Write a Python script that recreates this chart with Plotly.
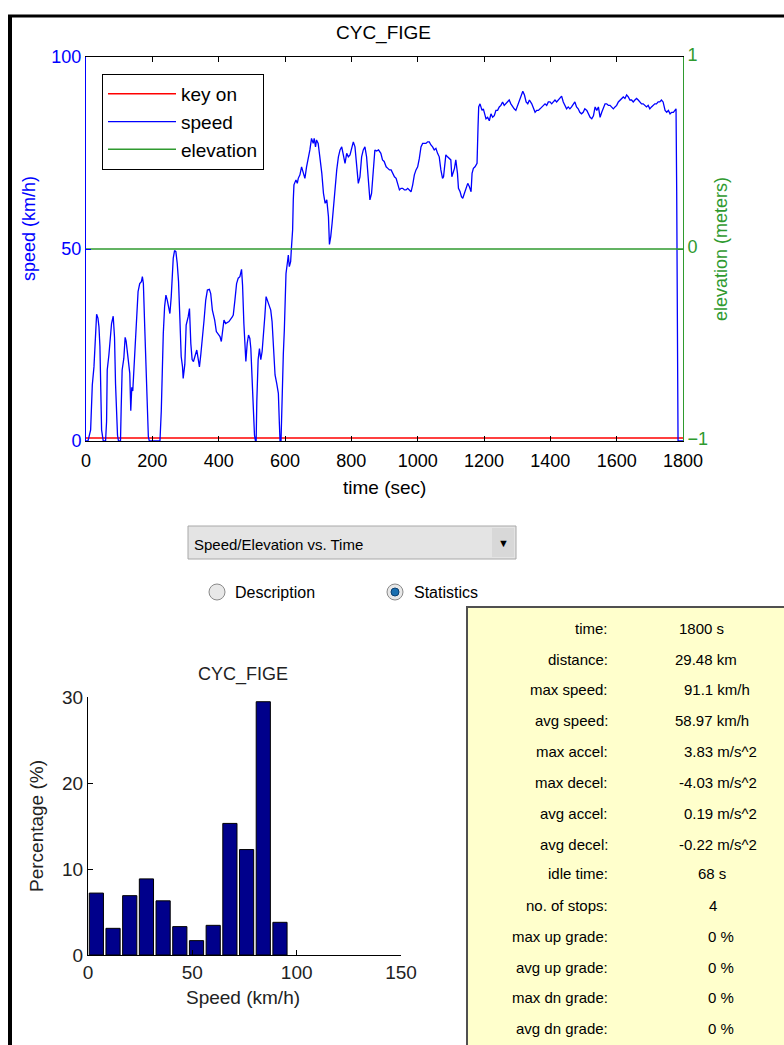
import plotly.graph_objects as go

# ---------------- data ----------------
time_s = [0, 6, 14, 19, 24, 29, 32, 36, 39, 42, 44, 47, 52, 59, 62, 64, 69, 72, 77, 82, 86, 89, 92, 95, 98, 104,
          106, 109, 114, 118, 121, 124, 128, 132, 135, 138, 141, 145, 148, 152, 157, 162, 167, 170, 173, 177, 181,
          185, 188, 191, 223, 227, 230, 233, 237, 241, 245, 250, 253, 257, 260, 263, 267, 271, 275, 279, 283, 287,
          291, 293, 298, 302, 308, 312, 316, 320, 324, 330, 334, 338, 342, 346, 351, 356, 361, 366, 372, 376, 381,
          388, 393, 398, 404, 408, 412, 416, 421, 431, 441, 444, 449, 454, 459, 464, 469, 472, 476, 479, 482, 486,
          490, 494, 497, 502, 505, 508, 511, 513, 515, 519, 523, 527, 531, 535, 539, 543, 547, 553, 557, 561, 565,
          570, 575, 580, 583, 585, 588, 591, 595, 598, 601, 603, 607, 610, 613, 617, 619, 621, 623, 625, 627, 633,
          637, 640, 645, 650, 655, 660, 665, 670, 675, 680, 685, 688, 692, 695, 700, 705, 711, 716, 721, 726, 731,
          734, 738, 742, 746, 751, 756, 761, 766, 771, 776, 781, 786, 791, 796, 801, 806, 811, 816, 821, 826, 831,
          836, 841, 846, 851, 856, 861, 866, 871, 876, 882, 889, 894, 899, 905, 910, 915, 920, 925, 930, 935, 940,
          945, 950, 955, 960, 965, 970, 975, 980, 985, 990, 995, 1000, 1005, 1010, 1015, 1020, 1025, 1030, 1035,
          1040, 1045, 1050, 1055, 1060, 1065, 1070, 1075, 1078, 1082, 1085, 1090, 1095, 1100, 1103, 1107, 1111,
          1115, 1120, 1123, 1128, 1132, 1136, 1141, 1146, 1151, 1156, 1161, 1164, 1168, 1173, 1179, 1182, 1184,
          1188, 1194, 1198, 1202, 1206, 1211, 1216, 1221, 1226, 1231, 1236, 1241, 1246, 1251, 1256, 1261, 1266,
          1271, 1276, 1281, 1286, 1291, 1296, 1301, 1307, 1312, 1317, 1322, 1327, 1332, 1337, 1344, 1349, 1354,
          1359, 1364, 1369, 1374, 1379, 1384, 1389, 1394, 1399, 1404, 1409, 1414, 1419, 1424, 1429, 1434, 1439,
          1444, 1449, 1454, 1459, 1464, 1469, 1474, 1479, 1484, 1489, 1494, 1499, 1504, 1510, 1515, 1520, 1525,
          1530, 1535, 1540, 1545, 1550, 1555, 1560, 1565, 1570, 1575, 1580, 1585, 1590, 1595, 1600, 1605, 1610,
          1615, 1620, 1625, 1630, 1635, 1640, 1645, 1650, 1655, 1660, 1665, 1670, 1675, 1680, 1685, 1690, 1695,
          1700, 1705, 1710, 1715, 1720, 1725, 1730, 1735, 1740, 1746, 1751, 1756, 1761, 1766, 1771, 1776, 1779,
          1781, 1783, 1785, 1800]
speed_kmh = [0, 0, 2.9, 14.6, 19.3, 28.9, 33, 32, 29.8, 24.6, 13, 2.9, 0, 0, 5, 18.5, 22.4, 26.3, 30.6, 32.5, 27, 15,
             6.3, 1.5, 0, 0, 8.3, 18.5, 21.5, 27, 26, 23.5, 19.3, 17.6, 7.9, 14, 13, 19.3, 25.4, 31.5, 38.9, 41, 41.5,
             42.8, 41, 29.8, 18.5, 9, 1.1, 0, 0, 7.9, 18.5, 27.9, 35, 38, 36.7, 34.5, 33.2, 37.6, 43.6, 47.6, 49.6,
             49.3, 46.3, 41.5, 32, 22, 19.3, 16.3, 20, 30.2, 32.3, 34.5, 25.4, 21.2, 20.7, 22.9, 23.7, 21.5, 19.3,
             22.4, 26.3, 31.5, 36.7, 39.3, 39.5, 38.4, 34.1, 31.5, 28.5, 28, 27.2, 25.9, 28.9, 31.5, 30.6, 31.1,
             32.3, 32.8, 36.7, 41, 42.4, 42.8, 44.7, 40.6, 30.6, 23.7, 20.7, 25.4, 27.6, 26.7, 24.1, 13.7, 6.3, 1.5,
             0, 0, 10.2, 21.2, 24.1, 21.2, 23.3, 27.2, 32.3, 37.6, 36.7, 35.4, 34.1, 31.1, 24.6, 17.2, 15, 12.4,
             4.6, 0, 0, 13, 22.8, 28.9, 36.7, 43.6, 46.3, 48.4, 45.4, 46.7, 49.7, 52, 55, 62.8, 66.7, 68, 67.1,
             68.4, 69.3, 71.4, 70.1, 68.4, 71.4, 73.2, 75.8, 78.8, 77.5, 78.8, 76.6, 78.4, 77.5, 74, 69.7, 64.5,
             61.9, 62.8, 58.4, 51.2, 53.3, 56.7, 61.1, 65.4, 70.6, 74, 75.8, 76.6, 74, 72.3, 74.9, 74, 74.5, 76.6,
             77.9, 76.6, 71.4, 67.1, 68.8, 74, 75.8, 76.6, 74, 67.1, 62.8, 64.5, 70.6, 75.8, 75.5, 75.8, 74.9,
             73.2, 72.8, 71.4, 71, 70.6, 70.6, 69.7, 68.8, 68.4, 66.7, 65.4, 65.8, 65.8, 65.4, 65.4, 65.8, 65.4,
             64.9, 66.7, 69.3, 70.6, 71.4, 73.6, 76.6, 77.5, 77.5, 77.5, 77.9, 77.9, 77.1, 76.6, 75.8, 76.2, 74.9,
             74, 70.6, 68.4, 68.8, 72.3, 74.5, 74, 73.6, 73.2, 68.8, 69.7, 71, 73.2, 69.7, 65.8, 64.9, 63.6, 63.2,
             64.5, 65.8, 67.1, 66.2, 64.9, 69.7, 71, 71.4, 72.3, 81.8, 87, 87.8, 86.1, 86.5, 84.7, 83.9, 84.3,
             83.4, 85.2, 84.3, 84.7, 86.1, 86.1, 87, 87.4, 88.3, 87.4, 87.8, 88.3, 88.8, 87.8, 87, 86.5, 86.1,
             87.4, 88.8, 90.1, 91.1, 90.1, 88.3, 87.8, 88.8, 87.8, 86.5, 85.6, 86.1, 86.1, 86.5, 87, 87.4, 87.8,
             87.4, 88.3, 88.3, 87.8, 88.3, 88.8, 88.3, 88.8, 89.2, 89.8, 88.3, 87.4, 86.5, 87, 86.5, 87, 87.8,
             88.3, 87, 86.5, 85.6, 85.2, 85.6, 86.5, 86.1, 85.2, 84.3, 83.9, 84.7, 87, 86.1, 87, 84.3, 85.6, 87,
             87.8, 87.8, 87.4, 87.4, 87, 86.5, 87, 87.4, 88.3, 88.8, 89.2, 89.6, 89.2, 90.1, 89.6, 88.8, 88.8,
             88.3, 88.8, 89.2, 88.8, 88.3, 87.8, 87.8, 87.4, 87, 87.4, 86.5, 87, 87.4, 87.8, 87.8, 88.3, 88.3,
             88.8, 88.3, 86.1, 85.6, 86.1, 85.2, 85.6, 85.6, 86.1, 86.5, 64.9, 30, 0, 0]

key_on_time = [0, 1800]
key_on_value = [0.8, 0.8]
elevation_time = [0, 1800]
elevation_m = [0, 0]

hist_centers = [4, 12, 20, 28, 36, 44, 52, 60, 68, 76, 84, 92]
hist_percent = [7.2, 3.1, 6.9, 8.85, 6.3, 3.3, 1.67, 3.45, 15.3, 12.26, 29.45, 3.8]

stat_labels = ["time:", "distance:", "max speed:", "avg speed:", "max accel:", "max decel:", "avg accel:",
               "avg decel:", "idle time:", "no. of stops:", "max up grade:", "avg up grade:", "max dn grade:",
               "avg dn grade:"]
stat_values = ["1800 s", "29.48 km", "91.1 km/h", "58.97 km/h", "3.83 m/s^2", "-4.03 m/s^2", "0.19 m/s^2",
               "-0.22 m/s^2", "68 s", "4", "0 %", "0 %", "0 %", "0 %"]

# ---------------- layout helpers ----------------
W, H = 784, 1045
def px(x):
    return x / W
def py(y):
    return 1 - y / H

NARROW = "Liberation Sans Narrow, Arial Narrow, Liberation Sans, Arial, sans-serif"
SANS = "Liberation Sans, Arial, sans-serif"
BLUE = "#0000ff"
GREEN = "#2f9a2f"
RED = "#ff0000"

fig = go.Figure()
fig.add_trace(go.Scatter(x=key_on_time, y=key_on_value, mode="lines", name="key on",
                         line=dict(color=RED, width=1.5), xaxis="x", yaxis="y"))
fig.add_trace(go.Scatter(x=time_s, y=speed_kmh, mode="lines", name="speed",
                         line=dict(color=BLUE, width=1.3), xaxis="x", yaxis="y"))
fig.add_trace(go.Scatter(x=elevation_time, y=elevation_m, mode="lines", name="elevation",
                         line=dict(color=GREEN, width=1.5), xaxis="x", yaxis="y2"))
fig.add_trace(go.Bar(x=hist_centers, y=hist_percent, width=6.8, showlegend=False,
                     marker=dict(color="#00008b", line=dict(color="black", width=1)),
                     xaxis="x3", yaxis="y3"))

axis_common = dict(showgrid=False, zeroline=False, showline=True, ticks="inside", ticklen=5,
                   automargin=False)

fig.update_layout(
    template="none",
    width=W, height=H, margin=dict(l=0, r=0, t=0, b=0, pad=0, autoexpand=False),
    paper_bgcolor="white", plot_bgcolor="white",
    showlegend=True,
    legend=dict(x=px(102), y=py(74), xanchor="left", yanchor="top",
                bordercolor="black", borderwidth=1, bgcolor="white",
                font=dict(family=SANS, size=19, color="black"), itemwidth=68,
                tracegroupgap=0),
    xaxis=dict(domain=[px(86), px(683)], anchor="y", range=[0, 1800],
               tickvals=[0, 200, 400, 600, 800, 1000, 1200, 1400, 1600, 1800],
               linecolor="black", tickcolor="black", mirror="ticks", ticklabelstandoff=3,
               tickfont=dict(family=NARROW, size=18, color="black"), **axis_common),
    yaxis=dict(domain=[py(441), py(57)], anchor="x", range=[0, 100], tickvals=[0, 50, 100],
               linecolor=BLUE, tickcolor=BLUE,
               tickfont=dict(family=NARROW, size=18, color=BLUE), **axis_common),
    yaxis2=dict(overlaying="y", side="right", anchor="x", range=[-1, 1], tickvals=[-1, 0, 1],
                linecolor=GREEN, tickcolor=GREEN, ticklabelshift=-2,
                tickfont=dict(family=NARROW, size=18, color=GREEN), **axis_common),
    xaxis3=dict(domain=[px(88), px(401)], anchor="y3", range=[0, 150], tickvals=[0, 50, 100, 150],
                linecolor="black", tickcolor="black",
                tickfont=dict(family=SANS, size=19, color="#222"), **axis_common),
    yaxis3=dict(domain=[py(955), py(697)], anchor="x3", range=[0, 30], tickvals=[0, 10, 20, 30],
                linecolor="black", tickcolor="black",
                tickfont=dict(family=SANS, size=19, color="#222"), **axis_common),
)

ann = []
# titles and axis labels
ann.append(dict(text="CYC_FIGE", x=px(383), y=py(33), font=dict(family=NARROW, size=19, color="black")))
ann.append(dict(text="time (sec)", x=px(384), y=py(487), font=dict(family=NARROW, size=19, color="black")))
ann.append(dict(text="speed (km/h)", x=px(29), y=py(229), textangle=-90,
                font=dict(family=NARROW, size=18, color=BLUE)))
ann.append(dict(text="elevation (meters)", x=px(721), y=py(249), textangle=-90,
                font=dict(family=NARROW, size=18, color=GREEN)))
ann.append(dict(text="CYC_FIGE", x=px(243), y=py(674), font=dict(family=SANS, size=18, color="#222")))
ann.append(dict(text="Speed (km/h)", x=px(243), y=py(997), font=dict(family=SANS, size=19, color="#222")))
ann.append(dict(text="Percentage (%)", x=px(36), y=py(826), textangle=-90,
                font=dict(family=SANS, size=19, color="#222")))
# dropdown and radio labels
ann.append(dict(text="Speed/Elevation vs. Time", x=px(192), y=py(544), xanchor="left",
                font=dict(family=SANS, size=15, color="black")))
ann.append(dict(text="\u25bc", x=px(503), y=py(543), font=dict(family=SANS, size=11, color="black")))
ann.append(dict(text="Description", x=px(233), y=py(592), xanchor="left",
                font=dict(family=SANS, size=16, color="black")))
ann.append(dict(text="Statistics", x=px(412), y=py(592), xanchor="left",
                font=dict(family=SANS, size=16, color="black")))

row_y = [628, 659, 689, 720, 751, 782, 813, 844, 874, 905, 936, 967, 997, 1028]
val_x = [677, 673, 682, 673, 682, 677, 682, 677, 696, 707, 706, 706, 706, 706]
for lab, val, yy, vx in zip(stat_labels, stat_values, row_y, val_x):
    ann.append(dict(text=lab, x=px(610), y=py(yy), xanchor="right",
                    font=dict(family=SANS, size=15, color="black")))
    ann.append(dict(text=val, x=px(vx), y=py(yy), xanchor="left",
                    font=dict(family=SANS, size=15, color="black")))

for a in ann:
    a.setdefault("xanchor", "center")
    a.update(xref="paper", yref="paper", showarrow=False, yanchor="middle")
fig.update_layout(annotations=ann)

shapes = []
# outer black frame
shapes.append(dict(type="line", x0=px(10), x1=px(10), y0=py(15), y1=py(1050),
                   line=dict(color="black", width=4)))
shapes.append(dict(type="line", x0=px(8), x1=px(790), y0=py(16), y1=py(16),
                   line=dict(color="black", width=3)))
# dropdown
shapes.append(dict(type="rect", x0=px(188), x1=px(516), y0=py(559), y1=py(526),
                   fillcolor="#e4e4e4", line=dict(color="#a8a8a8", width=1)))
shapes.append(dict(type="rect", x0=px(492), x1=px(514), y0=py(557), y1=py(528),
                   fillcolor="#d8d8d8", line=dict(color="#d8d8d8", width=0)))
# radio buttons
shapes.append(dict(type="circle", x0=px(209), x1=px(225), y0=py(600), y1=py(584),
                   fillcolor="#e8e8e8", line=dict(color="#8a8a8a", width=1)))
shapes.append(dict(type="circle", x0=px(387), x1=px(403), y0=py(600), y1=py(584),
                   fillcolor="#e8e8e8", line=dict(color="#8a8a8a", width=1)))
shapes.append(dict(type="circle", x0=px(391), x1=px(399), y0=py(596), y1=py(588),
                   fillcolor="#1a6fb0", line=dict(color="#0b3f70", width=1)))
# statistics panel
shapes.append(dict(type="rect", x0=px(467), x1=px(790), y0=py(1050), y1=py(607),
                   fillcolor="#ffffcc", line=dict(color="#505050", width=2), layer="below"))
for s in shapes:
    s.update(xref="paper", yref="paper")
fig.update_layout(shapes=shapes)

# place the figure flush with the window's top-left corner
page_css = "document.body.style.margin='0';document.body.style.overflow='hidden';"
fig.write_html("out.html", post_script=page_css, config={"displayModeBar": False})
